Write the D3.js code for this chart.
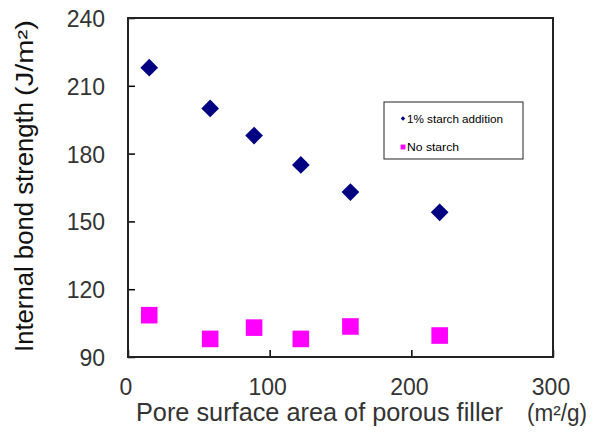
<!DOCTYPE html>
<html>
<head>
<meta charset="utf-8">
<script src="https://cdn.jsdelivr.net/npm/d3@7"></script>
<style>
  body { margin: 0; background: #fff; }
  svg { display: block; }
</style>
</head>
<body>
<svg id="drawing_region"></svg>
<script>
const surfaceArea = [15, 58, 89, 122, 157, 220];
const withStarch = [218, 200, 188, 175, 163, 154];
const noStarch = [108.5, 98, 103, 98, 103.5, 99.5];
const xTicks = [0, 100, 200, 300];
const yTicks = [90, 120, 150, 180, 210, 240];

const width = 595, height = 438;
const margin = {top: 18, right: 42, bottom: 81, left: 128};
const innerW = width - margin.left - margin.right;
const innerH = height - margin.top - margin.bottom;

const svg = d3.select('#drawing_region')
    .attr('width', width)
    .attr('height', height);

const chart = svg.append('g')
    .attr('transform', `translate(${margin.left}, ${margin.top})`);

const xscale = d3.scaleLinear().domain([0, 300]).range([0, innerW]);
const yscale = d3.scaleLinear().domain([90, 240]).range([innerH, 0]);

// inward ticks, labels drawn separately
const xaxis = d3.axisBottom(xscale).tickValues(xTicks).tickSize(-7).tickFormat('');
const yaxis = d3.axisLeft(yscale).tickValues(yTicks).tickSize(-7).tickFormat('');

chart.append('g')
    .attr('transform', `translate(0, ${innerH})`)
    .call(xaxis)
    .call(g => g.select('.domain').remove())
    .call(g => g.selectAll('line').attr('stroke', '#000').attr('stroke-width', 1.5));

chart.append('g')
    .call(yaxis)
    .call(g => g.select('.domain').remove())
    .call(g => g.selectAll('line').attr('stroke', '#000').attr('stroke-width', 1.5));

chart.append('rect')
    .attr('x', 0).attr('y', 0)
    .attr('width', innerW).attr('height', innerH)
    .attr('fill', 'none')
    .attr('stroke', '#222')
    .attr('stroke-width', 2);

const labelFont = '"Liberation Sans", Arial, sans-serif';

chart.selectAll('.xlab')
    .data(xTicks)
    .enter()
    .append('text')
    .attr('x', d => xscale(d) - 2)
    .attr('y', innerH + 38)
    .attr('text-anchor', 'middle')
    .attr('font-family', labelFont)
    .attr('font-size', '23px')
    .attr('fill', '#333')
    .text(d => d);

chart.selectAll('.ylab')
    .data(yTicks)
    .enter()
    .append('text')
    .attr('x', -23)
    .attr('y', d => yscale(d) + 9)
    .attr('text-anchor', 'end')
    .attr('font-family', labelFont)
    .attr('font-size', '23px')
    .attr('fill', '#333')
    .text(d => d);

// x title
svg.append('text')
    .attr('x', 136)
    .attr('y', 421)
    .attr('font-family', labelFont)
    .attr('font-size', '25px')
    .attr('fill', '#333')
    .attr('textLength', 367)
    .attr('lengthAdjust', 'spacingAndGlyphs')
    .text('Pore surface area of porous filler');

svg.append('text')
    .attr('x', 527)
    .attr('y', 421)
    .attr('font-family', labelFont)
    .attr('font-size', '23px')
    .attr('fill', '#333')
    .attr('textLength', 60)
    .attr('lengthAdjust', 'spacingAndGlyphs')
    .text('(m\u00b2/g)');

// y title
svg.append('text')
    .attr('transform', 'translate(33, 352) rotate(-90)')
    .attr('font-family', labelFont)
    .attr('font-size', '25px')
    .attr('fill', '#111')
    .attr('textLength', 250)
    .attr('lengthAdjust', 'spacingAndGlyphs')
    .text('Internal bond strength');

svg.append('text')
    .attr('transform', 'translate(33, 96) rotate(-90)')
    .attr('font-family', labelFont)
    .attr('font-size', '23px')
    .attr('fill', '#111')
    .attr('textLength', 76)
    .attr('lengthAdjust', 'spacingAndGlyphs')
    .text('(J/m\u00b2)');

// series marks
const diamond = d3.symbol().type(d3.symbolDiamond2).size(200);
const square = d3.symbol().type(d3.symbolSquare2).size(350);

chart.selectAll('.starch')
    .data(surfaceArea)
    .enter()
    .append('path')
    .attr('d', diamond)
    .attr('transform', (d, i) => `translate(${xscale(d)}, ${yscale(withStarch[i])})`)
    .attr('fill', '#000080');

chart.selectAll('.nostarch')
    .data(surfaceArea)
    .enter()
    .append('path')
    .attr('d', square)
    .attr('transform', (d, i) => `translate(${xscale(d)}, ${yscale(noStarch[i])})`)
    .attr('fill', '#ff00ff');

// legend
const legend = svg.append('g').attr('transform', 'translate(384, 102)');
legend.append('rect')
    .attr('width', 139).attr('height', 57)
    .attr('fill', '#fff')
    .attr('stroke', '#222')
    .attr('stroke-width', 1);

const legendItems = [
    {name: '1% starch addition', color: '#000080', sym: d3.symbolDiamond2, size: 13, len: 96},
    {name: 'No starch', color: '#ff00ff', sym: d3.symbolSquare2, size: 30, len: 52}
];

legendItems.forEach((it, i) => {
    const gy = 16.5 + i * 28.5;
    legend.append('path')
        .attr('d', d3.symbol().type(it.sym).size(it.size))
        .attr('transform', `translate(19, ${gy})`)
        .attr('fill', it.color);
    legend.append('text')
        .attr('x', 23)
        .attr('y', gy + 4)
        .attr('font-family', labelFont)
        .attr('font-size', '11px')
        .attr('fill', '#000')
        .attr('textLength', it.len)
        .attr('lengthAdjust', 'spacingAndGlyphs')
        .text(it.name);
});
</script>
</body>
</html>
